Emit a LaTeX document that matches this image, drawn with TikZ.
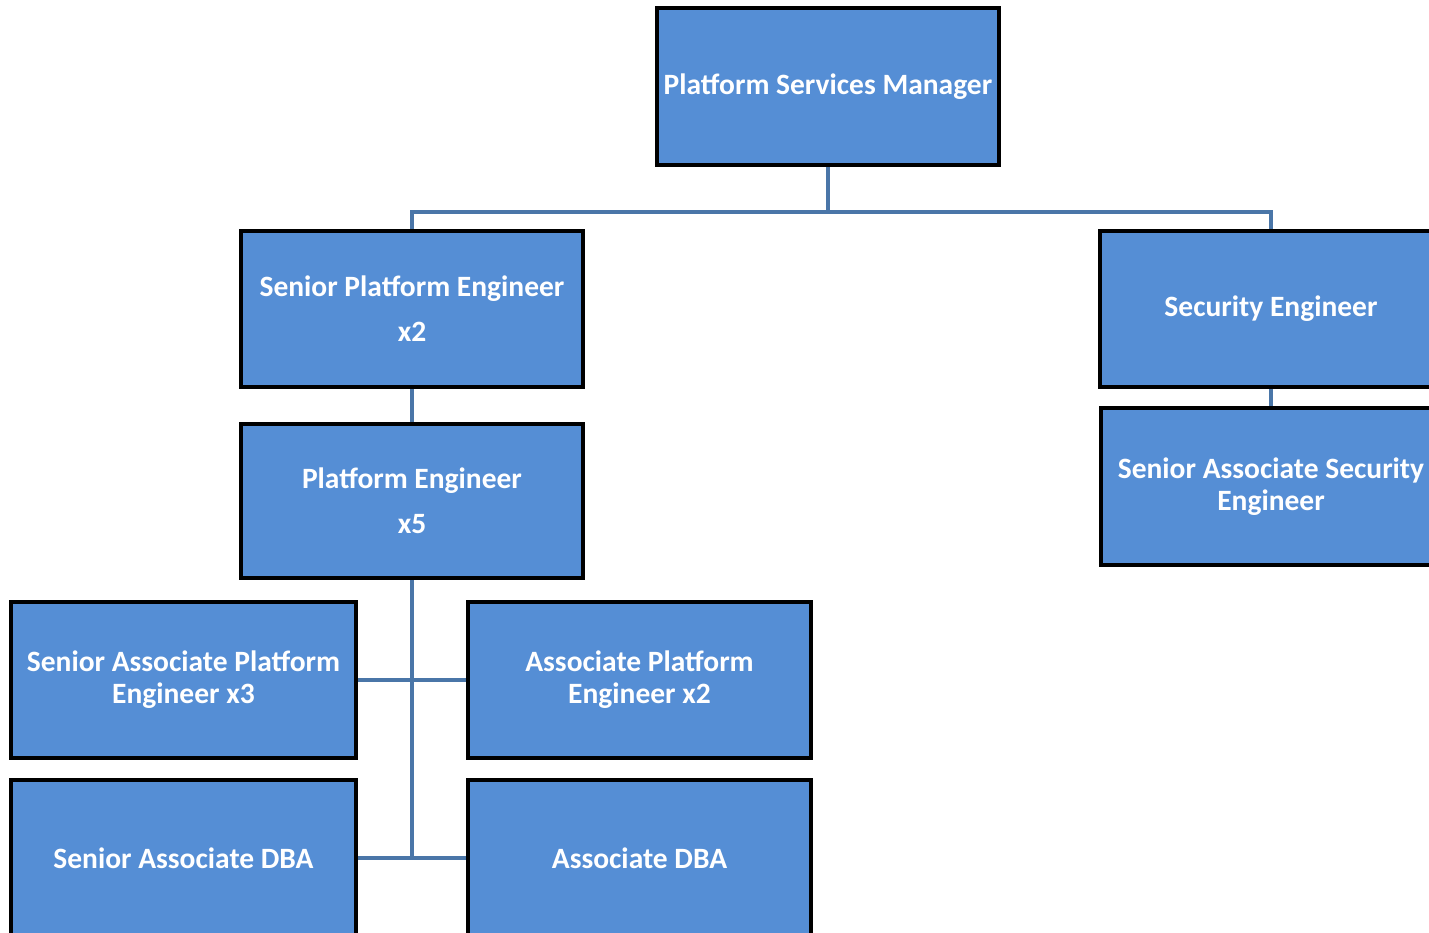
\documentclass[tikz,border=0pt]{standalone}
\usepackage{fontspec}
\setmainfont{Carlito}
\usetikzlibrary{backgrounds}
\definecolor{boxfill}{HTML}{558ED5}
\definecolor{connblue}{HTML}{4A76A8}
\tikzset{
  orgbox/.style={draw=black, line width=4pt, fill=boxfill, rectangle, inner sep=0pt,
    text=white, font=\bfseries\fontsize{29.5}{32}\selectfont, align=center},
  conn/.style={draw=connblue, line width=4pt}
}
\begin{document}
\begin{tikzpicture}[x=1pt,y=-1pt]
\useasboundingbox (0,0) rectangle (1429,933);
\clip (0,0) rectangle (1429,933);
\node[orgbox, minimum width=342pt, minimum height=157pt] (top) at (828,86.5) {Platform Services Manager};
\node[orgbox, minimum width=342pt, minimum height=156pt] (spe) at (412,309) {\raisebox{0pt}{Senior Platform Engineer}\\[13pt]x2};
\node[orgbox, minimum width=342pt, minimum height=156pt] (sec) at (1271,309) {Security Engineer};
\node[orgbox, minimum width=342pt, minimum height=154pt] (pe) at (412,501) {Platform Engineer\\[13pt]x5};
\node[orgbox, minimum width=340pt, minimum height=157pt] (sase) at (1271,486.5) {Senior Associate Security\\Engineer};
\node[orgbox, minimum width=345pt, minimum height=156pt] (sape) at (183.5,680) {Senior Associate Platform\\Engineer x3};
\node[orgbox, minimum width=343pt, minimum height=156pt] (ape) at (639.5,680) {Associate Platform\\Engineer x2};
\node[orgbox, minimum width=345pt, minimum height=156pt] (sadba) at (183.5,858) {Senior Associate DBA};
\node[orgbox, minimum width=343pt, minimum height=156pt] (adba) at (639.5,858) {Associate DBA};
\coordinate (j) at (828,212);
\coordinate (b) at (412,858);
\begin{scope}[on background layer]
\draw[conn] (top.south) -- (j);
\draw[conn] (spe.north) |- (j) -| (sec.north);
\draw[conn] (spe.south) -- (pe.north);
\draw[conn] (sec.south) -- (sase.north);
\draw[conn] (pe.south) -- (b);
\draw[conn] (sape.east) -- (ape.west);
\draw[conn] (sadba.east) -- (adba.west);
\end{scope}
\end{tikzpicture}
\end{document}
